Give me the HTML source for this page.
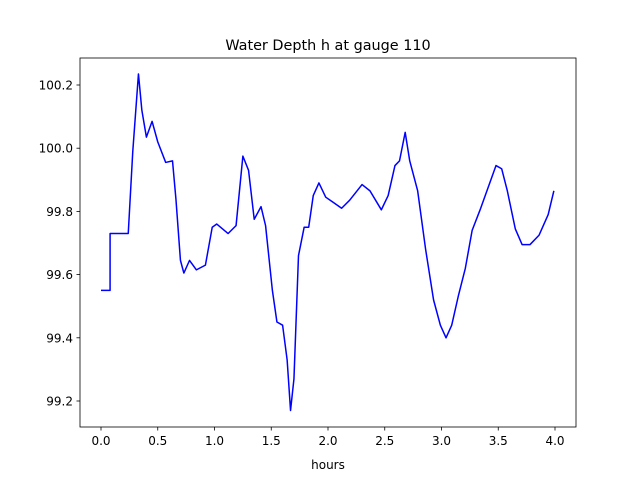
<!DOCTYPE html>
<html><head><meta charset="utf-8"><style>
body{margin:0;background:#fff;font-family:"DejaVu Sans","Liberation Sans",sans-serif;}
</style></head><body>
<svg width="640" height="480" xmlns="http://www.w3.org/2000/svg">
<rect width="640" height="480" fill="#fff"/>
<text x="328" y="50" font-size="14.4" text-anchor="middle">Water Depth h at gauge 110</text>
<g id="plot"></g>
<rect x="80" y="58" width="496" height="369" fill="none" stroke="#000" stroke-width="0.8"/>
<text x="328" y="469" font-size="12" text-anchor="middle">hours</text>
</svg>
<script>
const times=[0,0.08,0.0801,0.24,0.28,0.33,0.36,0.40,0.45,0.50,0.57,0.63,0.66,0.70,0.73,0.78,0.84,0.92,0.98,1.02,1.12,1.19,1.25,1.30,1.35,1.41,1.45,1.51,1.55,1.60,1.64,1.67,1.70,1.74,1.79,1.83,1.87,1.92,1.98,2.04,2.12,2.19,2.30,2.37,2.47,2.53,2.59,2.63,2.68,2.72,2.79,2.86,2.93,2.99,3.04,3.09,3.15,3.21,3.27,3.34,3.41,3.48,3.53,3.58,3.65,3.71,3.78,3.86,3.94,3.99];
const depths=[99.55,99.55,99.73,99.73,99.99,100.235,100.12,100.035,100.085,100.02,99.955,99.96,99.84,99.645,99.605,99.645,99.615,99.63,99.75,99.76,99.73,99.755,99.975,99.93,99.775,99.815,99.755,99.55,99.45,99.44,99.33,99.17,99.27,99.66,99.75,99.75,99.85,99.89,99.845,99.83,99.81,99.835,99.885,99.865,99.805,99.85,99.945,99.96,100.05,99.96,99.865,99.68,99.52,99.44,99.40,99.44,99.535,99.62,99.74,99.805,99.875,99.945,99.935,99.865,99.745,99.695,99.695,99.725,99.79,99.865];
const xTicks=[0,0.5,1.0,1.5,2.0,2.5,3.0,3.5,4.0];
const yTicks=[99.2,99.4,99.6,99.8,100.0,100.2];
const NS="http://www.w3.org/2000/svg";
const xs=t=>101+t*113.5;
const ys=v=>85+(100.2-v)*316;
const g=document.getElementById('plot');
function mk(tag,attrs){const e=document.createElementNS(NS,tag);for(const k in attrs)e.setAttribute(k,attrs[k]);g.appendChild(e);return e;}
xTicks.forEach(t=>{
  const l=mk('line',{x1:xs(t),x2:xs(t),y1:427,y2:430.5,stroke:'#000','stroke-width':0.8});
  
  
  const tx=mk('text',{x:xs(t),y:445,'font-size':12,'text-anchor':'middle'});
  tx.textContent=t.toFixed(1);
  
  
});
yTicks.forEach(v=>{
  const l=mk('line',{x1:76.5,x2:80,y1:ys(v),y2:ys(v),stroke:'#000','stroke-width':0.8});
  
  
  const tx=mk('text',{x:73,y:ys(v)+4.5,'font-size':12,'text-anchor':'end'});
  tx.textContent=v.toFixed(1);
  
  
});
const p=mk('polyline',{points:times.map((t,i)=>xs(t)+','+ys(depths[i])).join(' '),fill:'none',stroke:'#0000ff','stroke-width':1.5,'stroke-linejoin':'round'});


</script>
</body></html>
